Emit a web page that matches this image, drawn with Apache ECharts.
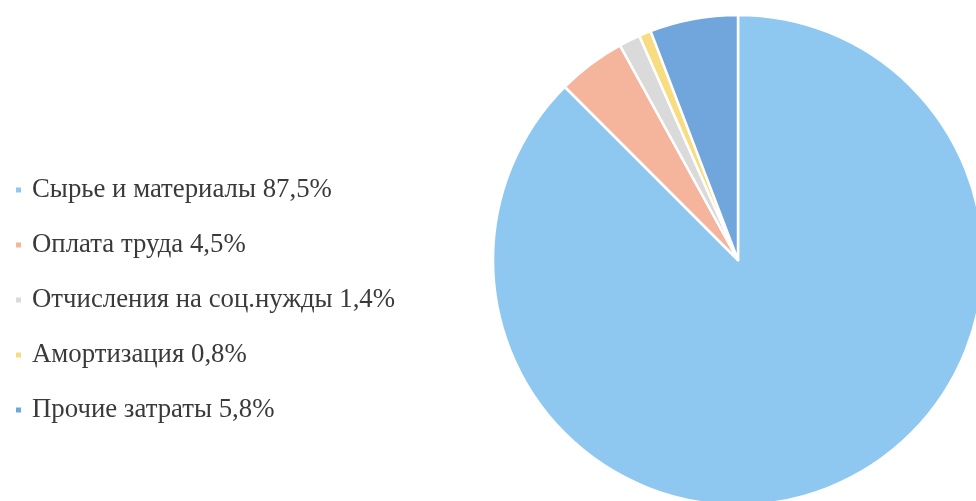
<!DOCTYPE html>
<html>
<head>
<meta charset="utf-8">
<script src="https://cdn.jsdelivr.net/npm/echarts@6/dist/echarts.min.js"></script>
<style>html,body{margin:0;padding:0;background:#fff}#c{width:976px;height:501px}</style>
</head>
<body>
<div id="c"></div>
<script>
const categories = ['Сырье и материалы 87,5%', 'Оплата труда 4,5%', 'Отчисления на соц.нужды 1,4%', 'Амортизация 0,8%', 'Прочие затраты 5,8%'];
const values = [87.5, 4.5, 1.4, 0.8, 5.8];
const colors = ['#8ec8f0', '#f5b49c', '#dadada', '#f8dc82', '#70a6dc'];

const chart = echarts.init(document.getElementById('c'), null, {renderer: 'canvas'});
chart.setOption({
  animation: false,
  color: colors,
  legend: {
    orient: 'vertical',
    left: 9,
    top: 170,
    icon: 'rect',
    itemWidth: 7,
    itemHeight: 7,
    itemGap: 25,
    data: categories,
    textStyle: {
      fontFamily: 'Liberation Serif',
      fontSize: 26.8,
      color: '#3a3a3a',
      lineHeight: 30,
      padding: [0, 0, 0, 5]
    }
  },
  series: [{
    type: 'pie',
    center: [738, 260],
    radius: 245,
    startAngle: 90,
    clockwise: true,
    label: {show: false},
    labelLine: {show: false},
    itemStyle: {borderColor: '#ffffff', borderWidth: 2.5},
    data: categories.map((n, i) => ({name: n, value: values[i]}))
  }]
});
</script>
</body>
</html>
